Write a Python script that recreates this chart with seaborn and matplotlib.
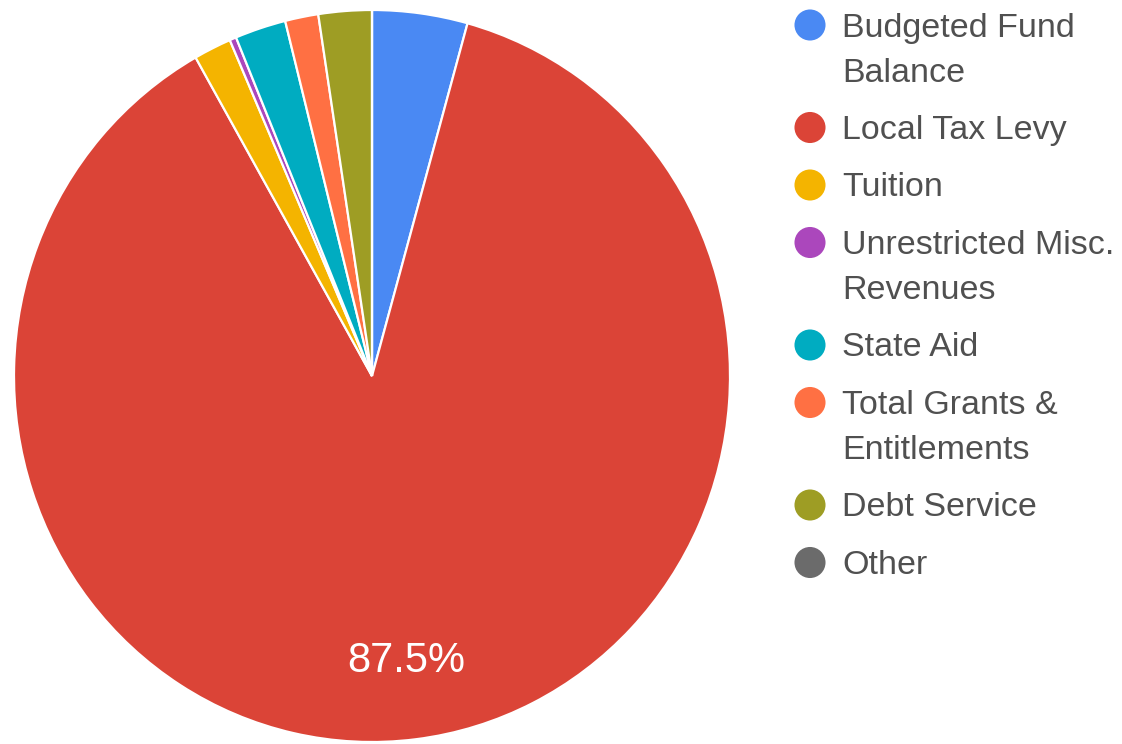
import matplotlib
matplotlib.use("Agg")
import matplotlib.pyplot as plt
import seaborn as sns

categories = ["Budgeted Fund\nBalance", "Local Tax Levy", "Tuition",
              "Unrestricted Misc.\nRevenues", "State Aid",
              "Total Grants &\nEntitlements", "Debt Service", "Other"]
values = [4.3, 87.5, 1.7, 0.3, 2.3, 1.5, 2.4, 0.0]
colors = ["#4a89f3", "#db4437", "#f4b400", "#ab47bc", "#00acc1",
          "#ff7043", "#9e9d24", "#6b6b6b"]

sns.set_theme(style="white")
plt.rcParams["font.family"] = ["Liberation Sans", "DejaVu Sans"]

W, H = 1122, 744
fig = plt.figure(figsize=(W / 100, H / 100), dpi=100)
fig.patch.set_facecolor("white")

# pie axes (pixel box: left 14, right 730, top 10, bottom 742)
ax = fig.add_axes([14 / W, (H - 742) / H, 716 / W, 732 / H])


def fmt(p):
    return f"{p:.1f}%" if p >= 10 else ""


wedges, texts, autotexts = ax.pie(
    values, colors=colors, startangle=90, counterclock=False,
    autopct=fmt, pctdistance=0.785,
    wedgeprops=dict(edgecolor="white", linewidth=1.6),
    textprops=dict(color="white", fontsize=30))
ax.set_aspect("auto")
ax.set_xlim(-1, 1)
ax.set_ylim(-1, 1)
ax.axis("off")

# legend drawn in pixel coordinates
lax = fig.add_axes([0, 0, 1, 1])
lax.set_xlim(0, W)
lax.set_ylim(H, 0)
lax.axis("off")
lax.patch.set_alpha(0)

y = 25.0
for lab, col in zip(categories, colors):
    lax.scatter([810], [y], s=500, color=col, edgecolors="none")
    for j, line in enumerate(lab.split("\n")):
        lax.text(842, y + 11.5 + 45 * j, line, fontsize=24.5, color="#505050",
                 va="baseline", ha="left")
    y += 57.5 + 45 * (lab.count("\n"))

fig.savefig("out.png", dpi=100, facecolor="white")
